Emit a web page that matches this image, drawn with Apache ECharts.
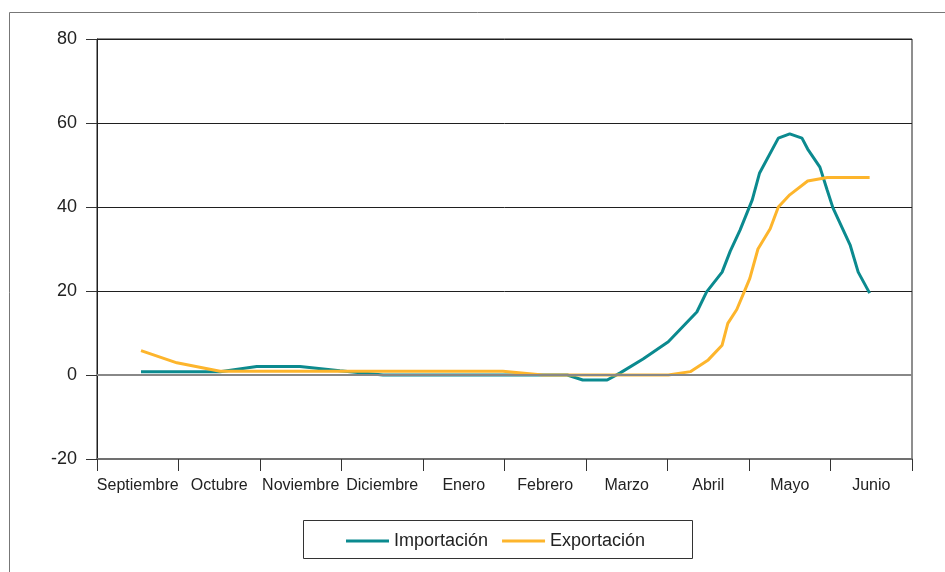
<!DOCTYPE html>
<html>
<head>
<meta charset="utf-8">
<script src="https://cdn.jsdelivr.net/npm/echarts@6/dist/echarts.min.js"></script>
<style>
  html, body { margin: 0; padding: 0; background: #fff; }
  #chart { width: 945px; height: 572px; }
</style>
</head>
<body>
<div id="chart"></div>
<script>
// Month labels of the season (September to June)
const months = ['Septiembre', 'Octubre', 'Noviembre', 'Diciembre', 'Enero',
                'Febrero', 'Marzo', 'Abril', 'Mayo', 'Junio'];

// Position of each observation in months since 1 September
const importPos = [0.54, 1.51, 1.96, 2.49, 2.98, 3.51, 5.77, 5.96, 6.26, 6.42,
                   6.70, 7.01, 7.36, 7.48, 7.67, 7.77, 7.89, 8.04, 8.13, 8.36,
                   8.50, 8.65, 8.72, 8.87, 8.96, 9.03, 9.24, 9.34, 9.48];
const importValues = [0.8, 0.8, 2.0, 2.0, 1.0, 0.0, 0.0, -1.2, -1.2, 0.5,
                      3.8, 7.9, 15.0, 19.8, 24.5, 29.5, 34.5, 41.7, 48.1, 56.4,
                      57.4, 56.4, 53.8, 49.5, 44.0, 39.8, 31.0, 24.5, 19.5];

const exportPos = [0.54, 0.98, 1.51, 4.98, 5.47, 7.01, 7.28, 7.50, 7.67, 7.74,
                   7.85, 7.95, 8.01, 8.11, 8.26, 8.36, 8.50, 8.72, 8.96, 9.48];
const exportValues = [5.8, 2.9, 0.9, 0.9, 0.0, 0.0, 0.8, 3.6, 7.1, 12.3,
                      15.6, 20.2, 23.0, 30.0, 34.8, 40.0, 42.9, 46.2, 47.0, 47.0];

// Value axis ticks
const yMin = -20, yMax = 80, yStep = 20;

const pair = (xs, ys) => xs.map((x, i) => [x, ys[i]]);

const chart = echarts.init(document.getElementById('chart'), null, { renderer: 'canvas' });

const font = '"Liberation Sans", Arial, sans-serif';

chart.setOption({
  animation: false,
  backgroundColor: '#ffffff',
  grid: {
    left: 97, right: 33, top: 39, bottom: 113,
    show: true, borderColor: '#1f1f1f', borderWidth: 1
  },
  graphic: [
    {
      type: 'rect', silent: true, z: -10,
      shape: { x: 9.5, y: 12.5, width: 1000, height: 700 },
      style: { fill: null, stroke: '#777777', lineWidth: 1 }
    },
    {
      type: 'rect', silent: true, z: -10,
      shape: { x: 303.5, y: 520.5, width: 389, height: 38 },
      style: { fill: null, stroke: '#333333', lineWidth: 1 }
    }
  ],
  legend: {
    left: 341, top: 527,
    icon: 'rect', itemWidth: 43, itemHeight: 3, itemGap: 14,
    textStyle: { fontFamily: font, fontSize: 18, color: '#222222' },
    data: ['Importación', 'Exportación']
  },
  xAxis: [
    {
      type: 'category', data: months, boundaryGap: true,
      axisLine: { show: true, onZero: false, lineStyle: { color: '#707070', width: 2 } },
      axisTick: { show: true, length: 12, lineStyle: { color: '#333333', width: 1 } },
      axisLabel: { fontFamily: font, fontSize: 16, color: '#222222', margin: 19, interval: 0 },
      splitLine: { show: false }
    },
    {
      type: 'value', min: 0, max: 10, show: false,
      splitLine: { show: false }
    }
  ],
  yAxis: {
    type: 'value', min: yMin, max: yMax, interval: yStep,
    axisLine: { show: true, lineStyle: { color: '#1f1f1f', width: 1 } },
    axisTick: { show: true, inside: false, length: 11, lineStyle: { color: '#333333' } },
    axisLabel: { fontFamily: font, fontSize: 18, color: '#222222', margin: 20 },
    splitLine: {
      show: true,
      lineStyle: { color: ['#707070', '#888888', '#1f1f1f', '#1f1f1f', '#1f1f1f', '#1f1f1f'], width: 1 }
    }
  },
  series: [
    {
      // zero reference line
      name: 'cero', type: 'line', xAxisIndex: 1, data: [], z: 1, silent: true,
      markLine: {
        silent: true, symbol: 'none', label: { show: false },
        lineStyle: { color: '#888888', width: 2, type: 'solid' },
        data: [{ yAxis: 0 }]
      }
    },
    {
      name: 'Importación', type: 'line', xAxisIndex: 1, z: 3,
      data: pair(importPos, importValues),
      showSymbol: false, symbol: 'none',
      lineStyle: { color: '#0b8a8f', width: 3 },
      itemStyle: { color: '#0b8a8f' }
    },
    {
      name: 'Exportación', type: 'line', xAxisIndex: 1, z: 4,
      data: pair(exportPos, exportValues),
      showSymbol: false, symbol: 'none',
      lineStyle: { color: '#fdb52c', width: 3 },
      itemStyle: { color: '#fdb52c' }
    }
  ]
});
</script>
</body>
</html>
